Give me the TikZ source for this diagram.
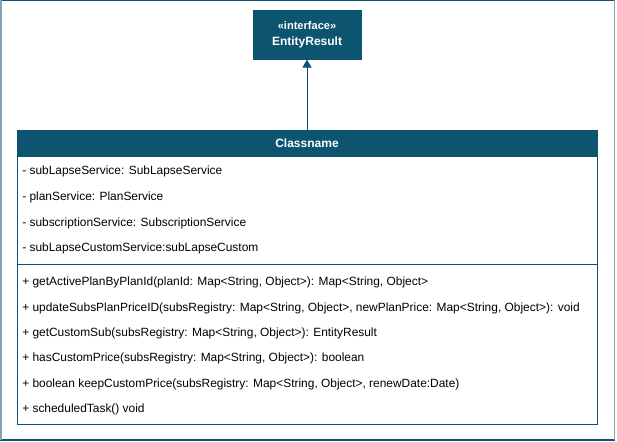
\documentclass[tikz,border=0pt]{standalone}
\usepackage{fontspec}
\setmainfont{Liberation Sans}
\usepackage{tikz}
\usetikzlibrary{arrows.meta}

\definecolor{umlteal}{HTML}{0D5470}
\definecolor{frameside}{HTML}{7FA6B8}

\tikzset{
  umlhead/.style={fill=umlteal, draw=umlteal, text=white, font=\bfseries\fontsize{9}{11}\selectfont, inner sep=0pt},
  member/.style={anchor=base west, inner sep=0pt, font=\fontsize{8.95}{11}\selectfont},
  umlline/.style={draw=umlteal, line width=0.75pt}
}

\begin{document}
\begin{tikzpicture}[x=0.75pt, y=-0.75pt]
  \useasboundingbox (0,0) rectangle (617,442);
  % outer frame
  \draw[umlteal, line width=1pt] (0,0.5) -- (614.5,0.5);
  \draw[umlteal, line width=1pt] (0,440) -- (614.5,440);
  \draw[frameside, line width=1.2pt] (0.8,0.5) -- (0.8,440);
  \draw[frameside, line width=1.2pt] (614.3,0.5) -- (614.3,440);

  % interface
  \node[umlhead, minimum width=81pt, minimum height=36.5pt, align=center] (iface) at (307,35)
    {{\fontsize{8.3}{10}\selectfont «interface»}\\[1pt]EntityResult};

  % class box
  \draw[umlline] (17,131) rectangle (597,424.5);
  \node[umlhead, minimum width=435pt, minimum height=19pt] (cls) at (307,143.5) {Classname};
  \draw[umlline] (17,264.5) -- (597,264.5);

  \foreach \t [count=\i from 0] in {{- subLapseService: SubLapseService}, {- planService: PlanService},
      {- subscriptionService: SubscriptionService}, {- subLapseCustomService:subLapseCustom}}
    \node[member] (attr\i) at (22,175+25.5*\i) {\t};

  \foreach \t [count=\i from 0] in {{+ getActivePlanByPlanId(planId: Map<String, Object>): Map<String, Object>},
      {+ updateSubsPlanPriceID(subsRegistry: Map<String, Object>, newPlanPrice: Map<String, Object>): void},
      {+ getCustomSub(subsRegistry: Map<String, Object>): EntityResult},
      {+ hasCustomPrice(subsRegistry: Map<String, Object>): boolean},
      {+ boolean keepCustomPrice(subsRegistry: Map<String, Object>, renewDate:Date)},
      {+ scheduledTask() void}}
    \node[member] (meth\i) at (22,285.7+25.33*\i) {\t};

  \draw[umlteal, line width=0.75pt, -{Triangle[width=6.8pt, length=6pt]}] (cls.north) -- (iface.south);
\end{tikzpicture}
\end{document}
